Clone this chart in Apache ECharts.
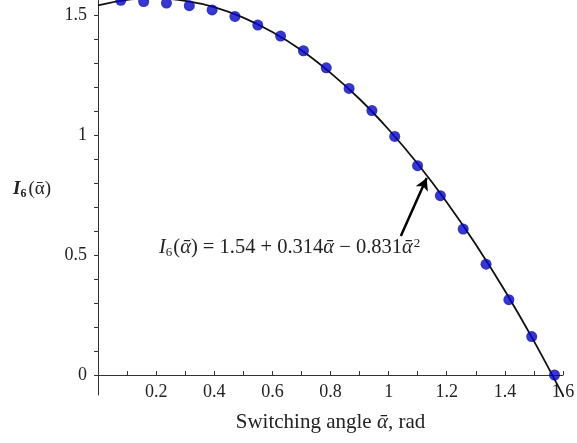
<!DOCTYPE html>
<html>
<head>
<meta charset="utf-8">
<title>I6 vs switching angle</title>
<style>
html, body { margin: 0; padding: 0; background: #fff; }
#main { width: 577px; height: 443px; }
</style>
</head>
<body>
<div id="main"></div>
<script src="https://cdn.jsdelivr.net/npm/echarts@6/dist/echarts.min.js"></script>
<script>
// sample points (alpha in rad, I6)
var alphaPts = [0.0785, 0.1571, 0.2356, 0.3142, 0.3927, 0.4712, 0.5498, 0.6283, 0.7069, 0.7854,
                0.8639, 0.9425, 1.0210, 1.0996, 1.1781, 1.2566, 1.3352, 1.4137, 1.4923, 1.5708];
var i6Pts = [1.561, 1.556, 1.550, 1.539, 1.521, 1.494, 1.458, 1.412, 1.351, 1.280,
             1.194, 1.102, 0.994, 0.872, 0.747, 0.608, 0.462, 0.314, 0.160, 0.000];
// fitted curve
var fitX = [0, 0.1, 0.2, 0.3, 0.4, 0.5, 0.6, 0.7, 0.8, 0.9, 1.0, 1.1, 1.2, 1.3, 1.4, 1.5, 1.6];
var fitY = [1.540, 1.563, 1.570, 1.559, 1.533, 1.489, 1.429, 1.353, 1.259, 1.150,
            1.023, 0.880, 0.720, 0.544, 0.351, 0.141, -0.085];
// axis ticks / labels
var xTicks = [0.1, 0.2, 0.3, 0.4, 0.5, 0.6, 0.7, 0.8, 0.9, 1.0, 1.1, 1.2, 1.3, 1.4, 1.5, 1.6];
var xLabels = [0.2, 0.4, 0.6, 0.8, 1.0, 1.2, 1.4, 1.6];
var yTicks = [0, 0.1, 0.2, 0.3, 0.4, 0.5, 0.6, 0.7, 0.8, 0.9, 1.0, 1.1, 1.2, 1.3, 1.4, 1.5];
var yLabels = [0, 0.5, 1, 1.5];
// arrow of the annotation: [tail, head]
var arrowPts = [[1.042, 0.579], [1.131, 0.821]];

var serif = '"Liberation Serif", "DejaVu Serif", serif';
var txt = '#222';

var myChart = echarts.init(document.getElementById('main'));
var option = {
    animation: false,
    backgroundColor: '#fff',
    grid: { left: 98, right: 14, top: 0, bottom: 48, containLabel: false, outerBoundsMode: 'none' },
    xAxis: {
        type: 'value',
        min: 0,
        max: 1.6,
        name: '{n|Switching angle }{i|ᾱ}{n|, rad}',
        nameLocation: 'middle',
        nameGap: 17,
        nameTextStyle: {
            rich: {
                n: { fontFamily: serif, fontSize: 21, color: txt },
                i: { fontFamily: serif, fontSize: 21, fontStyle: 'italic', color: txt }
            }
        },
        axisLine: { onZero: true, lineStyle: { color: '#333', width: 1 } },
        axisTick: { inside: true, length: 4, customValues: xTicks, lineStyle: { color: '#333' } },
        axisLabel: { customValues: xLabels, margin: -12, fontFamily: serif, fontSize: 18, color: txt },
        splitLine: { show: false }
    },
    yAxis: {
        type: 'value',
        min: -0.0833,
        max: 1.5625,
        axisLine: { show: true, onZero: false, lineStyle: { color: '#333', width: 1 } },
        axisTick: { show: true, length: 4, customValues: yTicks, lineStyle: { color: '#333' } },
        axisLabel: { customValues: yLabels, margin: 11, fontFamily: serif, fontSize: 18, color: txt },
        splitLine: { show: false }
    },
    graphic: [
        {
            type: 'text',
            left: 13,
            top: 180,
            style: {
                text: '{b|I}{s|6}{n|(ᾱ)}',
                rich: {
                    b: { fontFamily: serif, fontSize: 19, fontWeight: 'bold', fontStyle: 'italic', fill: txt, lineHeight: 24, verticalAlign: 'middle' },
                    s: { fontFamily: serif, fontSize: 12, fontWeight: 'bold', fill: txt, lineHeight: 24, verticalAlign: 'bottom', padding: [0, 2, 2, 0] },
                    n: { fontFamily: serif, fontSize: 19, fill: txt, lineHeight: 24, verticalAlign: 'middle' }
                }
            }
        },
        {
            type: 'text',
            left: 159,
            top: 235,
            style: {
                text: '{i|I}{s|6}{n|(}{i|ᾱ}{n|) = 1.54 + 0.314}{i|ᾱ}{n| − 0.831}{i|ᾱ}{p|2}',
                rich: {
                    i: { fontFamily: serif, fontSize: 20.5, fontStyle: 'italic', fill: txt, lineHeight: 26, verticalAlign: 'middle' },
                    n: { fontFamily: serif, fontSize: 20.5, fill: txt, lineHeight: 26, verticalAlign: 'middle' },
                    s: { fontFamily: serif, fontSize: 13, fill: txt, lineHeight: 26, verticalAlign: 'bottom', padding: [0, 1, 2, 0] },
                    p: { fontFamily: serif, fontSize: 13, fill: txt, lineHeight: 26, verticalAlign: 'top', padding: [2, 0, 0, 1] }
                }
            }
        }
    ],
    series: [
        {
            name: 'fit',
            type: 'line',
            data: fitX.map(function (x, i) { return [x, fitY[i]]; }),
            smooth: 0.4,
            showSymbol: false,
            clip: true,
            lineStyle: { color: '#111', width: 1.8 },
            z: 2,
            markLine: {
                silent: true,
                symbol: ['none', 'arrow'],
                symbolSize: [10, 12],
                label: { show: false },
                lineStyle: { color: '#000', width: 2.5, type: 'solid' },
                data: [[{ coord: arrowPts[0] }, { coord: arrowPts[1] }]]
            }
        },
        {
            name: 'points',
            type: 'scatter',
            data: alphaPts.map(function (x, i) { return [x, i6Pts[i]]; }),
            symbolSize: 11,
            clip: true,
            itemStyle: {
                color: {
                    type: 'radial', x: 0.45, y: 0.45, r: 0.6,
                    colorStops: [{ offset: 0, color: '#0808e0' }, { offset: 1, color: '#00009c' }]
                }
            },
            z: 3
        }
    ]
};
myChart.setOption(option);
</script>
</body>
</html>
